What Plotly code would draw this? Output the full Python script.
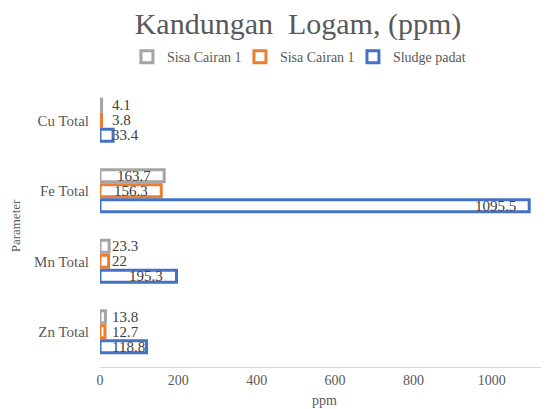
import plotly.graph_objects as go

categories = ["Cu Total", "Fe Total", "Mn Total", "Zn Total"]
series_names = ["Sisa Cairan 1", "Sisa Cairan 1", "Sludge padat"]
sisa_cairan_a = [4.1, 163.7, 23.3, 13.8]
sisa_cairan_b = [3.8, 156.3, 22, 12.7]
sludge_padat = [33.4, 1095.5, 195.3, 118.8]
colors = ["#a5a5a5", "#ed7d31", "#4472c4"]

FONT = "Liberation Serif, Times New Roman, serif"
GREY = "#595959"

fig = go.Figure()
all_series = [sisa_cairan_a, sisa_cairan_b, sludge_padat]
for name, vals, col in zip(series_names, all_series, colors):
    fig.add_trace(go.Bar(
        y=categories, x=vals, name=name, orientation="h",
        marker=dict(color="white", line=dict(color=col, width=3)),
        offsetgroup=name + col,
        hoverinfo="x+y",
    ))

# data labels (Excel "inside end", clamped to the bar base)
pad = 25
n = len(all_series)
bargap = 0.36
slot = (1 - bargap) / n
for i, vals in enumerate(all_series):
    for j, v in enumerate(vals):
        t = f"{v:g}"
        w = len(t) * 19
        yoff = -(1 - bargap) / 2 + slot * (i + 0.5)
        if v - pad - w > pad:
            x = v - pad - 4; anchor = "right"
        else:
            x = pad; anchor = "left"
        fig.add_annotation(x=x, y=j + yoff, text=t, showarrow=False,
                           xanchor=anchor, yanchor="middle", xref="x", yref="y",
                           font=dict(family=FONT, size=15, color="#404040"))

fig.update_layout(
    width=541, height=401,
    paper_bgcolor="white", plot_bgcolor="white",
    barmode="group", bargap=bargap, bargroupgap=0.2,
    margin=dict(l=92, r=0, t=77, b=42, autoexpand=False),
    title=dict(text="Kandungan  Logam, (ppm)", x=0.536, xanchor="center", y=0.962, yanchor="middle",
               font=dict(family=FONT, size=30, color=GREY)),
    legend=dict(orientation="h", x=0.06, xanchor="left", y=1.099, yanchor="middle",
                font=dict(family=FONT, size=14, color=GREY), traceorder="normal",
                entrywidth=68, entrywidthmode="pixels", itemwidth=30),
    font=dict(family=FONT, color=GREY),
    xaxis=dict(range=[0, 1146], dtick=200, showgrid=False, zeroline=False,
               showline=True, linecolor="#d9d9d9", linewidth=1, automargin=False,
               tickfont=dict(family=FONT, size=14, color=GREY), ticks="",
               title=dict(text="ppm", font=dict(family=FONT, size=14, color=GREY), standoff=8)),
    yaxis=dict(autorange="reversed", showgrid=False, zeroline=False, showline=False, automargin=False,
               tickfont=dict(family=FONT, size=15, color=GREY), ticks="", ticklabelstandoff=10,
               title=dict(text="Parameter", font=dict(family=FONT, size=13, color=GREY), standoff=12)),
)

fig.write_html("out.html")
